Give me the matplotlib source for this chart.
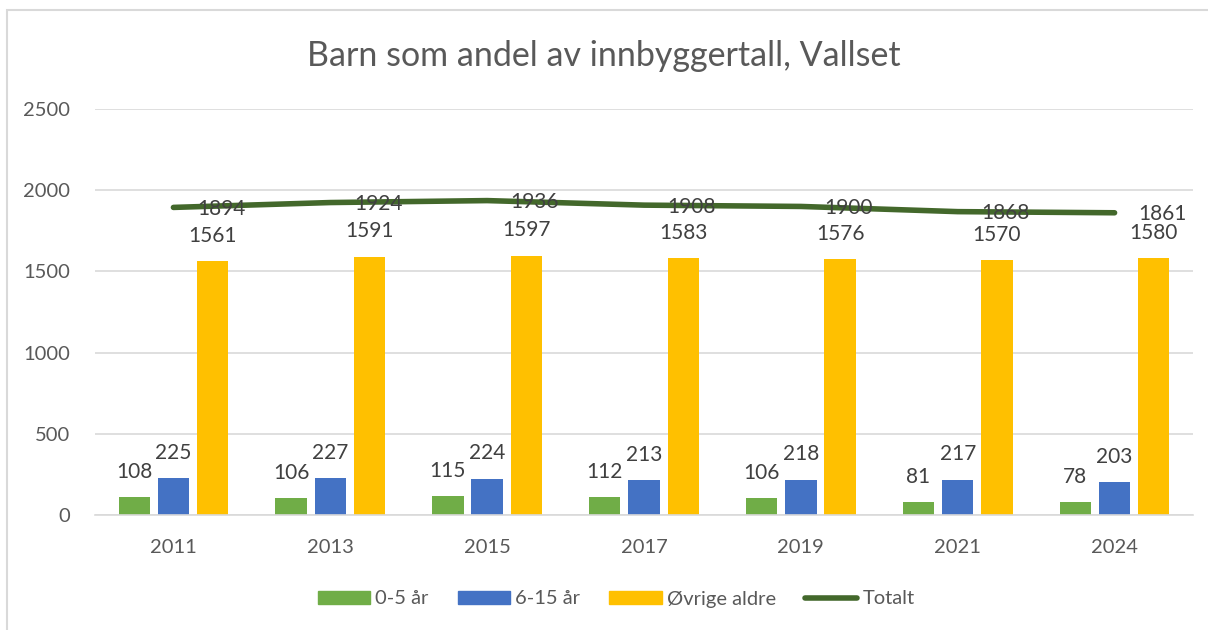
import numpy as np
import matplotlib.pyplot as plt
from matplotlib.patches import Rectangle
from matplotlib.lines import Line2D

plt.rcParams['font.family'] = ['Lato', 'DejaVu Sans']

years = ["2011", "2013", "2015", "2017", "2019", "2021", "2024"]
age_0_5 = [108, 106, 115, 112, 106, 81, 78]
age_6_15 = [225, 227, 224, 213, 218, 217, 203]
others = [1561, 1591, 1597, 1583, 1576, 1570, 1580]
total = [1894, 1924, 1936, 1908, 1900, 1868, 1861]

c_green = "#70AD47"
c_blue = "#4472C4"
c_yellow = "#FFC000"
c_line = "#43682B"
c_text = "#595959"
c_label = "#404040"

fig = plt.figure(figsize=(12.08, 6.30), dpi=100)
ax = fig.add_axes([95 / 1208, 1 - 515 / 630, (1193 - 95) / 1208, (515 - 109) / 630])

x = np.arange(len(years))
w = 0.2
b1 = ax.bar(x - 0.25, age_0_5, w, color=c_green, label="0-5 år", zorder=2)
b2 = ax.bar(x, age_6_15, w, color=c_blue, label="6-15 år", zorder=2)
b3 = ax.bar(x + 0.25, others, w, color=c_yellow, label="Øvrige aldre", zorder=2)
for b in (b1, b2, b3):
    ax.bar_label(b, padding=11, fontsize=15, color=c_label)

ax.plot(x, total, color=c_line, lw=4, solid_capstyle='round', label="Totalt", zorder=3)
for xi, v in zip(x, total):
    ax.annotate(str(v), (xi, v), xytext=(17, -1), textcoords='offset points',
                ha='left', va='center', fontsize=15, color=c_label, zorder=4)

ax.set_xlim(-0.5, len(years) - 0.5)
ax.set_ylim(0, 2500)
ax.set_yticks(range(0, 2501, 500))
ax.set_xticks(x)
ax.set_xticklabels(years)
ax.tick_params(axis='both', length=0, labelsize=14.5, labelcolor=c_text)
ax.tick_params(axis='y', pad=18)
ax.tick_params(axis='x', pad=17)
ax.grid(axis='y', color="#D9D9D9", lw=1.2, zorder=0)
for s in ("top", "right", "left"):
    ax.spines[s].set_visible(False)
ax.spines['bottom'].set_color("#D9D9D9")
ax.spines['bottom'].set_linewidth(1.2)

fig.text(0.5, 1 - 56 / 630, "Barn som andel av innbyggertall, Vallset",
         ha='center', va='center', fontsize=24.5, color=c_text)

handles = [Rectangle((0, 0), 1, 1, color=c_green), Rectangle((0, 0), 1, 1, color=c_blue),
           Rectangle((0, 0), 1, 1, color=c_yellow),
           Line2D([0], [0], color=c_line, lw=4, solid_capstyle='round')]
fig.legend(handles, ["0-5 år", "6-15 år", "Øvrige aldre", "Totalt"], loc='center',
           bbox_to_anchor=(616 / 1208, 1 - 599 / 630), ncol=4, frameon=False,
           fontsize=14.5, labelcolor=c_text, handlelength=2.6, handleheight=0.65,
           handletextpad=0.25, columnspacing=1.45)

fig.patches.append(Rectangle((7 / 1208, -0.1), 1.2, 1 - 10 / 630 + 0.1,
                             transform=fig.transFigure, fill=False,
                             edgecolor="#D9D9D9", lw=1.5))

fig.savefig("out.png")
